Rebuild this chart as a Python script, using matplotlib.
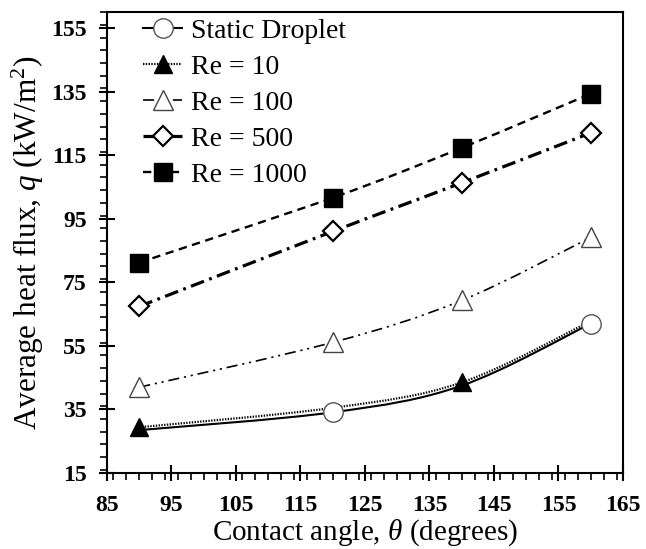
import matplotlib
matplotlib.use("Agg")
import matplotlib.pyplot as plt
from matplotlib.path import Path
from matplotlib.patches import PathPatch
from matplotlib.lines import Line2D
from matplotlib.ticker import MultipleLocator

# contact angle (degrees)
angle = [90, 120, 140, 160]

# average heat flux (kW/m2)
static_droplet = [28.5, 34.1, 42.5, 62.0]
re_10 = [29.4, 35.5, 43.5, 62.8]
re_100 = [42.0, 56.1, 69.3, 89.1]
re_500 = [67.4, 91.0, 106.3, 122.0]
re_1000 = [81.2, 101.6, 117.3, 134.3]

labels = ["Static Droplet", "Re = 10", "Re = 100", "Re = 500", "Re = 1000"]

plt.rcParams["font.family"] = ["Liberation Serif", "DejaVu Serif"]
plt.rcParams["mathtext.fontset"] = "custom"
plt.rcParams["mathtext.it"] = "Liberation Serif:italic"
plt.rcParams["mathtext.rm"] = "Liberation Serif"
plt.rcParams["lines.scale_dashes"] = False


def smooth_path(xs, ys):
    # excel-like smoothed line: cubic bezier through the points
    pts = list(zip(xs, ys))
    verts = [pts[0]]
    codes = [Path.MOVETO]
    n = len(pts)
    for i in range(n - 1):
        p0 = pts[i - 1] if i > 0 else pts[i]
        p1 = pts[i]
        p2 = pts[i + 1]
        p3 = pts[i + 2] if i + 2 < n else pts[i + 1]
        c1 = (p1[0] + (p2[0] - p0[0]) / 6, p1[1] + (p2[1] - p0[1]) / 6)
        c2 = (p2[0] - (p3[0] - p1[0]) / 6, p2[1] - (p3[1] - p1[1]) / 6)
        verts += [c1, c2, p2]
        codes += [Path.CURVE4] * 3
    return Path(verts, codes)


fig = plt.figure(figsize=(6.46, 5.49), dpi=100)
ax = fig.add_axes([0.1656, 0.1384, 0.7988, 0.8396])

series = [
    # values, linestyle, lw, marker, ms, face, edge, mew, markevery
    (static_droplet, "-", 1.5, "o", 14, "white", "#555555", 1.0, [1, 3]),
    (re_10, (0, (1.0, 1.0)), 1.6, "^", 13, "black", "black", 1.0, [0, 2]),
    (re_100, (0, (8, 3.5, 1.5, 3.5, 1.5, 3.5)), 1.2, "^", 14, "white", "#444444", 1.0, None),
    (re_500, (0, (10, 4, 2, 4)), 2.3, "D", 10.5, "white", "black", 1.6, None),
    (re_1000, (0, (6, 4)), 1.7, "s", 13.5, "black", "black", 1.0, None),
]

handles = []
for k, (vals, ls, lw, mk, ms, fc, ec, mew, every) in enumerate(series):
    patch = PathPatch(smooth_path(angle, vals), fill=False, edgecolor="black",
                      linestyle=ls, linewidth=lw, zorder=2 + k * 0.1)
    ax.add_patch(patch)
    xs = angle if every is None else [angle[i] for i in every]
    ys = vals if every is None else [vals[i] for i in every]
    ax.plot(xs, ys, linestyle="none", marker=mk, markersize=ms,
            markerfacecolor=fc, markeredgecolor=ec, markeredgewidth=mew,
            zorder=3 + k * 0.1)
    handles.append(Line2D([], [], color="black", linestyle=ls, linewidth=lw,
                          marker=mk, markersize=ms, markerfacecolor=fc,
                          markeredgecolor=ec, markeredgewidth=mew))

ax.set_xlim(85, 165)
ax.set_ylim(15, 160)
ax.set_xticks(range(85, 166, 10))
ax.xaxis.set_minor_locator(MultipleLocator(2))
ax.set_yticks(range(15, 156, 20))
ax.yaxis.set_minor_locator(MultipleLocator(4))

for s in ax.spines.values():
    s.set_linewidth(1.5)
ax.tick_params(which="major", direction="inout", length=11, width=1.5,
               labelsize=17, pad=9)
ax.tick_params(axis="x", which="major", pad=10)
ax.tick_params(which="minor", direction="out", length=5, width=1.2)
for lab in ax.get_xticklabels() + ax.get_yticklabels():
    lab.set_fontweight("bold")

ax.set_xlabel(r"Contact angle, $\mathit{\theta}$ (degrees)", fontsize=21, labelpad=1)
ax.set_ylabel(r"Average heat flux, $\mathit{q}$ (kW/m$^2$)", fontsize=22.5, labelpad=4)

ax.legend(handles, labels, loc="upper left", bbox_to_anchor=(0.222, 0.967),
          bbox_transform=fig.transFigure, frameon=False, fontsize=20,
          handlelength=1.4, handletextpad=0.3, labelspacing=0.38,
          numpoints=1, borderaxespad=0, borderpad=0)

fig.savefig("out.png", dpi=100)
